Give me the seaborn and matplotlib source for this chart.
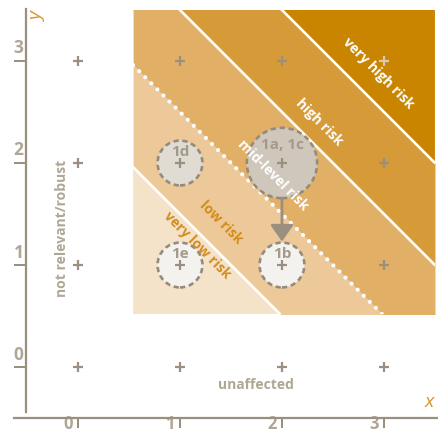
import numpy as np
import pandas as pd
import seaborn as sns
import matplotlib.pyplot as plt
from matplotlib.patches import Circle, Rectangle
from matplotlib.transforms import ScaledTranslation

# grid of reference points
grid_x = [0, 1, 2, 3]
grid_y = [0, 1, 2, 3]
tick_labels = ['0', '1', '2', '3']

# risk bands, split along x + y
band_edges = [2.5, 3.5, 4.5, 5.5]
band_names = ['very low risk', 'low risk', 'mid-level risk', 'high risk', 'very high risk']
band_colors = ['#f5e3c9', '#edc999', '#e2af66', '#d69a38', '#c98400']
band_label_x = [1.17, 1.40, 1.91, 2.37, 2.94]
band_label_y = [1.19, 1.42, 1.88, 2.40, 2.88]
band_label_colors = ['#d28c1e', '#d28c1e', 'white', 'white', 'white']
zone_x = (0.54, 3.5)
zone_y = (0.52, 3.5)

# cases
case_labels = ['1a, 1c', '1b', '1d', '1e']
case_x = [2, 2, 1, 1]
case_y = [2, 1, 2, 1]
case_r = [0.345, 0.22, 0.22, 0.22]
case_fill = ['#cfc7bb', '#f3f2ef', '#e0dcd4', '#f3f2ef']

gray = '#9b9080'
light_gray = '#b0a696'
orange = '#d9952a'

sns.set_style('white')
plt.rcParams['font.family'] = ['Open Sans', 'DejaVu Sans']
fig = plt.figure(figsize=(4.38, 4.33), dpi=100)
ax = fig.add_axes([0, 0, 1, 1])
ax.set_xlim(-0.765, 3.53)
ax.set_ylim(-0.647, 3.598)

# bands clipped to the shaded zone
clip = Rectangle((zone_x[0], zone_y[0]), zone_x[1] - zone_x[0], zone_y[1] - zone_y[0],
                 transform=ax.transData)
xs = np.linspace(zone_x[0], zone_x[1], 50)
lows = [-10] + band_edges
highs = band_edges + [20]
for lo, hi, c in zip(lows, highs, band_colors):
    poly = ax.fill_between(xs, lo - xs, hi - xs, color=c, lw=0, zorder=1)
    poly.set_clip_path(clip)

for e in band_edges:
    if e == 3.5:
        ln, = ax.plot(xs, e - xs, color='white', lw=3.0, ls=(0, (0.01, 2.05)),
                      dash_capstyle='round', zorder=2)
    else:
        ln, = ax.plot(xs, e - xs, color='white', lw=1.9, zorder=2)
    ln.set_clip_path(clip)

for name, x, y, c in zip(band_names, band_label_x, band_label_y, band_label_colors):
    ax.text(x, y, name, color=c, fontsize=10, fontweight='bold', rotation=-45,
            ha='center', va='center', rotation_mode='anchor', zorder=6)

# case circles
for lab, x, y, r, fc in zip(case_labels, case_x, case_y, case_r, case_fill):
    ax.add_patch(Circle((x, y), r, facecolor=fc, edgecolor='#958b7d', lw=1.9,
                        ls=(0, (2, 1.4)), zorder=3))
    ax.text(x, y + (0.18 if r > 0.3 else 0.11), lab, color='#a39a8b', fontsize=11,
            fontweight='bold', ha='center', va='center', zorder=4)

ax.annotate('', xy=(case_x[1], case_y[1] + case_r[1] + 0.01),
            xytext=(case_x[0], case_y[0] - case_r[0]),
            arrowprops=dict(arrowstyle='-|>,head_length=1.0,head_width=0.7',
                            lw=2.0, color=gray, shrinkA=0, shrinkB=0), zorder=4)

# plus marks
pts = pd.DataFrame([(x, y) for x in grid_x for y in grid_y], columns=['x', 'y'])
pts['tone'] = np.where((pts.x == 3) & (pts.y == 3), 'light', 'dark')
sns.scatterplot(data=pts, x='x', y='y', hue='tone', palette={'dark': gray, 'light': '#d8c9b0'},
                marker='+', s=60, linewidth=1.6, legend=False, ax=ax, zorder=5)

ax.text(-0.157, 1.36, 'not relevant/robust', rotation=90, color=light_gray, fontsize=10,
        fontweight='bold', ha='center', va='center')
ax.text(1.745, -0.176, 'unaffected', color=light_gray, fontsize=10,
        fontweight='bold', ha='center', va='center')
ax.text(-0.39, 3.44, 'y', rotation=90, color=orange, fontsize=14, style='italic',
        ha='center', va='center')
ax.text(3.45, -0.34, 'x', color=orange, fontsize=14, style='italic',
        ha='center', va='center')

# axes
for s in ['top', 'right']:
    ax.spines[s].set_visible(False)
ax.spines['left'].set_position(('data', -0.51))
ax.spines['left'].set_bounds(-0.44, 3.51)
ax.spines['bottom'].set_position(('data', -0.5))
ax.spines['bottom'].set_bounds(-0.63, 3.53)
for s in ['left', 'bottom']:
    ax.spines[s].set_color(gray)
    ax.spines[s].set_linewidth(1.6)

ax.set_xticks(grid_x, tick_labels)
ax.set_yticks(grid_y, tick_labels)
ax.tick_params(axis='x', bottom=True, direction='out', length=7.5, width=1.44, color=gray,
               labelcolor=light_gray, labelsize=12, pad=0)
ax.tick_params(axis='y', left=True, direction='out', length=8.6, width=1.44, color=gray,
               labelcolor=light_gray, labelsize=12.5, pad=0)
for lab in ax.get_xticklabels():
    lab.set_fontweight('bold')
    lab.set_transform(lab.get_transform() + ScaledTranslation(-0.1, 0.13, fig.dpi_scale_trans))
for lab in ax.get_yticklabels():
    lab.set_fontweight('bold')
    lab.set_transform(lab.get_transform() + ScaledTranslation(0.095, 0.145, fig.dpi_scale_trans))
ax.set_xlabel('')
ax.set_ylabel('')

fig.savefig('out.png', dpi=100)
